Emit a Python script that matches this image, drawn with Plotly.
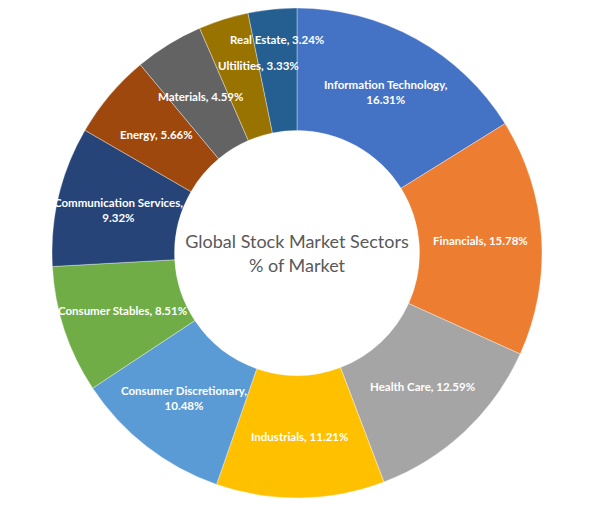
import math
import plotly.graph_objects as go

# Sectors in clockwise order, starting at 12 o'clock
sectors = ['Information Technology', 'Financials', 'Health Care', 'Industrials',
           'Consumer Discretionary', 'Consumer Stables', 'Communication Services',
           'Energy', 'Materials', 'Ultilities', 'Real Estate']

# Share of global market (%)
shares = [16.31, 15.78, 12.59, 11.21, 10.48, 8.51, 9.32, 5.66, 4.59, 3.33, 3.24]

colors = ['#4472C4', '#ED7D31', '#A5A5A5', '#FFC000', '#5B9BD5', '#70AD47',
          '#264478', '#9E480E', '#636363', '#997300', '#255E91']

# long names get the value on a second line
wrapped = {'Information Technology', 'Consumer Discretionary', 'Communication Services'}
# small slices: labels pushed outward / sideways so they don't collide
# (radius as fraction of outer radius, extra angle in degrees)
nudge = {'Real Estate': (0.875, 0.5), 'Ultilities': (0.78, 5.8)}

HOLE = 0.5

fig = go.Figure(go.Pie(
    labels=sectors,
    values=shares,
    textinfo='none',
    hole=HOLE,
    sort=False,
    direction='clockwise',
    rotation=0,
    marker=dict(colors=colors, line=dict(color='rgba(255,255,255,0.6)', width=0.6)),
    title=dict(text='Global Stock Market Sectors<br>% of Market', position='middle center',
               font=dict(family='Lato', size=18, color='#595959')),
))

# data labels at the middle of each ring segment
total = sum(shares)
start = 0.0
for name, val in zip(sectors, shares):
    span = val / total * 360
    mid = start + span / 2
    start += span
    rf, dang = nudge.get(name, ((1 + HOLE) / 2, 0))
    a = math.radians(mid + dang)
    sep = '<br>' if name in wrapped else ' '
    fig.add_annotation(
        x=0.5 + 0.5 * rf * math.sin(a), y=0.5 + 0.5 * rf * math.cos(a),
        xref='paper', yref='paper', xanchor='center', yanchor='middle',
        text=f'<b>{name},{sep}{val:.2f}%</b>', showarrow=False, align='center',
        font=dict(family='Lato', size=11.5, color='white'),
    )

fig.update_layout(
    width=600, height=508,
    showlegend=False,
    margin=dict(l=44, r=66, t=0, b=18),
    paper_bgcolor='white',
)

fig.write_html('out.html')
